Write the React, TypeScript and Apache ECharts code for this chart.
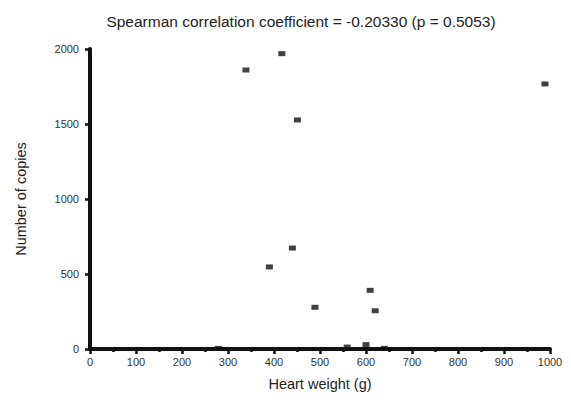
import React, { useEffect, useRef } from "react";
import * as echarts from "echarts";

const heartWeight = [339, 417, 451, 989, 440, 390, 489, 609, 620, 559, 600, 640, 279];
const copies = [1860, 1969, 1527, 1767, 673, 547, 278, 391, 255, 13, 29, 4, 4];
const xTicks = [0, 100, 200, 300, 400, 500, 600, 700, 800, 900, 1000];
const yTicks = [0, 500, 1000, 1500, 2000];
const titleText = "Spearman correlation coefficient = -0.20330 (p = 0.5053)";

export default function App() {
  const ref = useRef<HTMLDivElement>(null);
  useEffect(() => {
    if (!ref.current) return;
    const chart = echarts.init(ref.current, undefined, { renderer: "svg" });
    const font = "'Liberation Sans', Arial, sans-serif";
    chart.setOption({
      animation: false,
      backgroundColor: "#ffffff",
      textStyle: { fontFamily: font },
      title: {
        text: titleText,
        left: 296,
        textAlign: "center",
        top: 8,
        textStyle: { fontSize: 15.5, fontWeight: "normal", color: "#222", fontFamily: font },
      },
      grid: { left: 90, right: 21, top: 49, bottom: 55 },
      xAxis: {
        type: "value",
        min: xTicks[0],
        max: xTicks[xTicks.length - 1],
        interval: 100,
        name: "Heart weight (g)",
        nameLocation: "middle",
        nameGap: 27,
        nameTextStyle: { fontSize: 14.5, color: "#222", fontFamily: font },
        axisLine: { show: true, onZero: false, lineStyle: { color: "#111", width: 4 } },
        axisTick: { show: true, inside: false, length: 5, lineStyle: { color: "#111", width: 2.5 } },
        minorTick: { show: true, splitNumber: 2, length: 3, lineStyle: { color: "#111", width: 2.5 } },
        axisLabel: { fontSize: 11, color: "#333", margin: 7, fontFamily: font, formatter: (v: number) => String(v) },
        splitLine: { show: false },
      },
      yAxis: {
        type: "value",
        min: yTicks[0],
        max: yTicks[yTicks.length - 1],
        interval: 500,
        name: "Number of copies",
        nameLocation: "middle",
        nameGap: 62,
        nameTextStyle: { fontSize: 14.5, color: "#222", fontFamily: font },
        axisLine: { show: true, onZero: false, lineStyle: { color: "#111", width: 4 } },
        axisTick: { show: true, inside: false, length: 5, lineStyle: { color: "#111", width: 2.5 } },
        axisLabel: { fontSize: 11, color: "#333", margin: 11, fontFamily: font, formatter: (v: number) => String(v) },
        splitLine: { show: false },
      },
      series: [
        {
          type: "scatter",
          data: heartWeight.map((x, i) => [x, copies[i]]),
          symbol: "rect",
          symbolSize: [7, 5],
          itemStyle: { color: "#111" },
        },
      ],
    });
    return () => chart.dispose();
  }, []);
  return <div ref={ref} style={{ width: 571, height: 404, margin: -8 }} />;
}
